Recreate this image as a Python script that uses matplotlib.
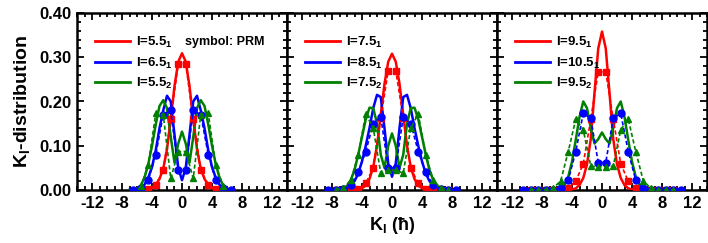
import numpy as np
import matplotlib
matplotlib.use("Agg")
import matplotlib.pyplot as plt
from matplotlib.ticker import MultipleLocator

plt.rcParams['font.family'] = ['Liberation Sans', 'DejaVu Sans']
plt.rcParams['font.weight'] = 'bold'
plt.rcParams['mathtext.fontset'] = 'custom'
plt.rcParams['mathtext.rm'] = 'Liberation Sans:bold'
plt.rcParams['mathtext.it'] = 'Liberation Sans:bold'
plt.rcParams['mathtext.bf'] = 'Liberation Sans:bold'

# ---- data ----
k_grid = np.arange(-7, 7.5, 0.5)  # grid of the smooth (solid) curves

# Panel 1 : I=5.5_1 (red), I=6.5_1 (blue), I=5.5_2 (green)
p1_red_solid = [0, 0, 0, 0, 0, 0.001, 0.004, 0.012, 0.025, 0.048, 0.092, 0.16, 0.235, 0.29, 0.309,
                0.29, 0.235, 0.16, 0.092, 0.048, 0.025, 0.012, 0.004, 0.001, 0, 0, 0, 0, 0]
p1_blue_solid = [0, 0, 0.001, 0.004, 0.012, 0.028, 0.052, 0.09, 0.14, 0.18, 0.213, 0.2, 0.125, 0.05, 0.022,
                 0.05, 0.125, 0.2, 0.213, 0.18, 0.14, 0.09, 0.052, 0.028, 0.012, 0.004, 0.001, 0, 0]
p1_green_solid = [0, 0.001, 0.003, 0.01, 0.028, 0.058, 0.1, 0.148, 0.19, 0.203, 0.185, 0.12, 0.062, 0.105, 0.132,
                  0.105, 0.062, 0.12, 0.185, 0.203, 0.19, 0.148, 0.1, 0.058, 0.028, 0.01, 0.003, 0.001, 0]
p1_red_prm = [0, 0.002, 0.011, 0.045, 0.16, 0.285, 0.285, 0.16, 0.045, 0.011, 0.002, 0]
p1_blue_prm = [0.001, 0.004, 0.022, 0.08, 0.17, 0.18, 0.045, 0.045, 0.18, 0.17, 0.08, 0.022, 0.004, 0.001]
p1_green_prm = [0.008, 0.056, 0.173, 0.17, 0.026, 0.087, 0.087, 0.026, 0.17, 0.173, 0.056, 0.008]

# Panel 2 : I=7.5_1 (red), I=8.5_1 (blue), I=7.5_2 (green)
p2_red_solid = [0, 0, 0, 0, 0, 0.001, 0.004, 0.01, 0.025, 0.052, 0.1, 0.17, 0.24, 0.29, 0.308,
                0.29, 0.24, 0.17, 0.1, 0.052, 0.025, 0.01, 0.004, 0.001, 0, 0, 0, 0, 0]
p2_blue_solid = [0, 0.001, 0.003, 0.009, 0.02, 0.037, 0.065, 0.1, 0.14, 0.185, 0.215, 0.21, 0.14, 0.06, 0.03,
                 0.06, 0.14, 0.21, 0.215, 0.185, 0.14, 0.1, 0.065, 0.037, 0.02, 0.009, 0.003, 0.001, 0]
p2_green_solid = [0.001, 0.003, 0.009, 0.022, 0.045, 0.08, 0.12, 0.16, 0.186, 0.185, 0.15, 0.08, 0.05, 0.1, 0.128,
                  0.1, 0.05, 0.08, 0.15, 0.185, 0.186, 0.16, 0.12, 0.08, 0.045, 0.022, 0.009, 0.003, 0.001]
p2_red_prm = [0, 0, 0.001, 0.003, 0.015, 0.05, 0.163, 0.27, 0.27, 0.163, 0.05, 0.015, 0.003, 0.001, 0, 0]
p2_blue_prm = [0, 0.001, 0.003, 0.012, 0.04, 0.087, 0.15, 0.166, 0.05,
               0.05, 0.166, 0.15, 0.087, 0.04, 0.012, 0.003, 0.001, 0]
p2_green_prm = [0.001, 0.004, 0.022, 0.079, 0.172, 0.14, 0.038, 0.045, 0.045, 0.038, 0.14, 0.172, 0.079, 0.022, 0.004, 0.001]

# Panel 3 : I=9.5_1 (red), I=10.5_1 (blue), I=9.5_2 (green)
p3_red_solid = [0, 0, 0, 0, 0, 0, 0.001, 0.004, 0.011, 0.027, 0.058, 0.115, 0.22, 0.32, 0.358,
                0.32, 0.22, 0.115, 0.058, 0.027, 0.011, 0.004, 0.001, 0, 0, 0, 0, 0, 0]
p3_blue_solid = None
p3_green_solid = [0, 0, 0.001, 0.004, 0.012, 0.03, 0.064, 0.113, 0.165, 0.2, 0.185, 0.14, 0.105, 0.115, 0.13,
                  0.115, 0.105, 0.14, 0.185, 0.2, 0.165, 0.113, 0.064, 0.03, 0.012, 0.004, 0.001, 0, 0]
p3_red_prm = [0, 0, 0, 0, 0.001, 0.005, 0.02, 0.059, 0.16, 0.267,
              0.267, 0.16, 0.059, 0.02, 0.005, 0.001, 0, 0, 0, 0]
p3_blue_prm = [0, 0, 0, 0, 0.001, 0.005, 0.022, 0.087, 0.173, 0.162, 0.062,
               0.062, 0.162, 0.173, 0.087, 0.022, 0.005, 0.001, 0, 0, 0, 0]
p3_green_prm = [0, 0, 0.001, 0.004, 0.021, 0.087, 0.16, 0.136, 0.054, 0.052,
                0.052, 0.054, 0.136, 0.16, 0.087, 0.021, 0.004, 0.001, 0, 0]

panels = [
    dict(spins=[5.5, 6.5, 5.5], labels=[r"I=5.5$_1$", r"I=6.5$_1$", r"I=5.5$_2$"],
         solid=[p1_red_solid, p1_blue_solid, p1_green_solid], prm=[p1_red_prm, p1_blue_prm, p1_green_prm]),
    dict(spins=[7.5, 8.5, 7.5], labels=[r"I=7.5$_1$", r"I=8.5$_1$", r"I=7.5$_2$"],
         solid=[p2_red_solid, p2_blue_solid, p2_green_solid], prm=[p2_red_prm, p2_blue_prm, p2_green_prm]),
    dict(spins=[9.5, 10.5, 9.5], labels=[r"I=9.5$_1$", r"I=10.5$_1$", r"I=9.5$_2$"],
         solid=[p3_red_solid, p3_blue_solid, p3_green_solid], prm=[p3_red_prm, p3_blue_prm, p3_green_prm]),
]
colors = ['#ff0000', '#0000ff', '#008000']
markers = ['s', 'o', '^']
x_ticks = [-12, -8, -4, 0, 4, 8, 12]
y_ticks = [0.00, 0.10, 0.20, 0.30, 0.40]

# ---- figure ----
fig = plt.figure(figsize=(7.08, 2.43), dpi=100)
W, H = 708, 243
left0, pw, bottom, top = 77, 210, 190, 13
axes = []
for i, pdata in enumerate(panels):
    ax = fig.add_axes([(left0 + i * pw) / W, (H - bottom) / H, pw / W, (bottom - top) / H])
    axes.append(ax)
    handles = []
    for j in range(3):
        c = colors[j]
        if pdata['solid'][j] is not None:
            ax.plot(k_grid, pdata['solid'][j], color=c, lw=1.8, zorder=3)
        I = pdata['spins'][j]
        kk = np.arange(-I, I + 0.5, 1.0)
        ax.plot(kk, pdata['prm'][j], color=c, lw=1.2, ls=(0, (2.5, 1.5)),
                marker=markers[j], ms=5, mec=c, mfc=c, zorder=4)
        h, = ax.plot([], [], color=c, lw=2.0)
        handles.append(h)
    ax.legend(handles, pdata['labels'], loc='upper left', bbox_to_anchor=(0.075, 0.89),
              frameon=False, fontsize=9.5, handlelength=2.6, handletextpad=0.45,
              labelspacing=0.4, borderpad=0.2, borderaxespad=0.0)
    ax.set_xlim(-14, 14)
    ax.set_ylim(0, 0.40)
    ax.set_xticks(x_ticks)
    ax.set_xticklabels([str(t) for t in x_ticks])
    ax.xaxis.set_minor_locator(MultipleLocator(1))
    ax.set_yticks(y_ticks)
    ax.yaxis.set_minor_locator(MultipleLocator(0.02))
    ax.tick_params(which='both', direction='in', top=True, right=True, width=1.3)
    ax.tick_params(which='major', length=5, labelsize=12, pad=4)
    ax.tick_params(which='minor', length=3)
    for s in ax.spines.values():
        s.set_linewidth(1.8)
    if i == 0:
        ax.set_yticklabels([f"{t:.2f}" for t in y_ticks])
        ax.set_ylabel(r"K$_\mathrm{I}$-distribution", fontsize=14, fontweight='bold', labelpad=5)
    else:
        ax.set_yticklabels([])
    for lab in ax.get_xticklabels() + ax.get_yticklabels():
        lab.set_fontweight('bold')

axes[0].text(0.515, 0.836, "symbol: PRM", transform=axes[0].transAxes, fontsize=9,
             fontweight='bold', va='center', ha='left')
axes[1].set_xlabel(r"K$_\mathrm{I}$ (ħ)", fontsize=13, fontweight='bold', labelpad=3)

fig.savefig("out.png", dpi=100)
